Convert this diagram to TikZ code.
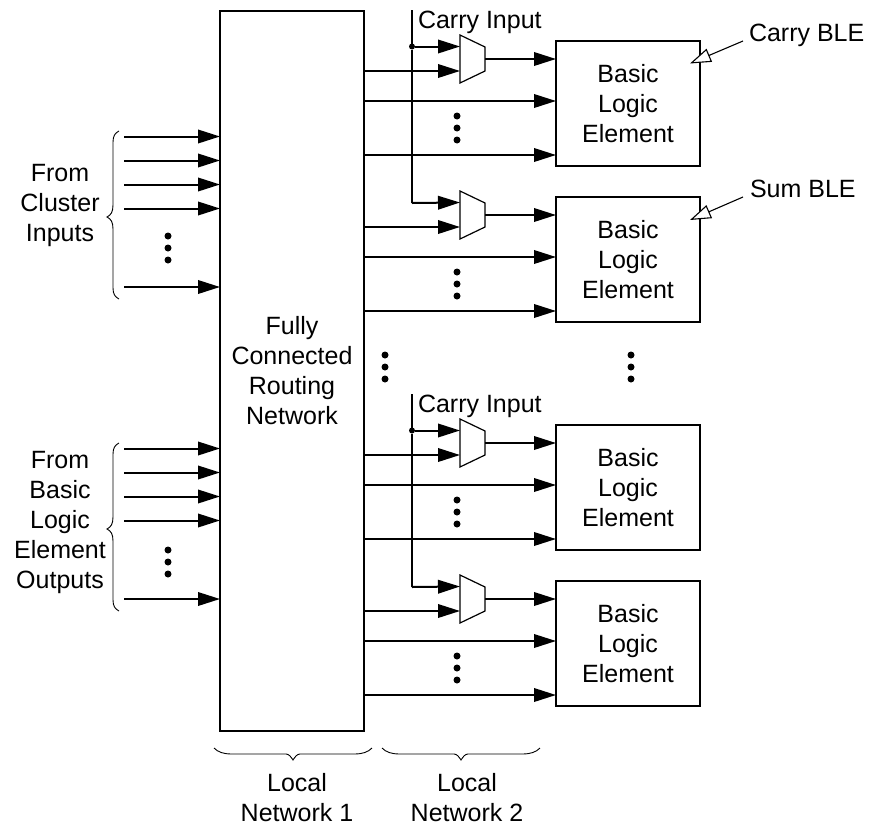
\documentclass[tikz,border=0pt]{standalone}
\usepackage{fontspec}
\setmainfont{Liberation Sans}
\usetikzlibrary{arrows.meta}
\tikzset{
  x=1pt,y=-1pt,
  every node/.style={inner sep=0pt,outer sep=0pt},
  lbl/.style={font=\fontsize{25}{30}\selectfont,align=center},
  blebox/.style={draw,line width=2pt,minimum width=144pt,minimum height=125.5pt},
  wire/.style={line width=2pt},
  arr/.style={wire,-{Triangle[length=22pt,width=13.5pt]}},
  muxshape/.style={line width=1.2pt,line join=miter},
  bracel/.style={line width=0.9pt},
  ell/.style={circle,fill=black,minimum size=7pt},
  junction/.style={circle,fill=black,minimum size=6pt},
  callout/.style={line width=1.1pt,-{Triangle[open,length=21pt,width=14pt,fill=white]}}
}
\begin{document}
\begin{tikzpicture}
\useasboundingbox (0,0) rectangle (872,827);
\node[draw,line width=2pt,minimum width=144pt,minimum height=720pt] (main) at (292,371) {};
\node[lbl] (mainl) at (292,371) {Fully\\Connected\\Routing\\Network};
% BLE rows
\foreach \i/\b in {1/0,2/156,3/384,4/540}{
  \node[blebox] (ble\i) at (628,103.5+\b) {};
  \node[lbl] (blel\i) at (628,103.5+\b) {Basic\\Logic\\Element};
  \coordinate (m\i-tl) at (460,35+\b);
  \coordinate (m\i-tr) at (485,47+\b);
  \coordinate (m\i-br) at (485,71+\b);
  \coordinate (m\i-bl) at (460,83+\b);
  \coordinate (m\i-a) at (460,46.5+\b);
  \coordinate (m\i-b) at (460,71+\b);
  \coordinate (m\i-o) at (485,59+\b);
  \draw[muxshape] (m\i-tl) -- (m\i-tr) -- (m\i-br) -- (m\i-bl) -- cycle;
  \draw[arr] (m\i-o) -- (ble\i.west |- m\i-o);
  \draw[arr] (main.east |- m\i-b) -- (m\i-b);
  \coordinate (r\i-a) at (500,101+\b);
  \coordinate (r\i-b) at (500,155+\b);
  \draw[arr] (main.east |- r\i-a) -- (ble\i.west |- r\i-a);
  \draw[arr] (main.east |- r\i-b) -- (ble\i.west |- r\i-b);
  \node[ell] (d\i a) at (457,116+\b) {};
  \node[ell] (d\i b) at (457,128+\b) {};
  \node[ell] (d\i c) at (457,140+\b) {};
}
% carry lines
\foreach \t/\u/\v/\b in {c1/1/2/0,c2/3/4/384}{
  \coordinate (\t-top) at (412,10+\b);
  \node[junction] (\t-j) at (412,46.5+\b) {};
  \draw[wire] (\t-top) -- (\t-j);
  \draw[arr] (\t-j) -- (m\u-a);
  \draw[wire] (\t-j) -- (412,203+\b) coordinate (\t-corner) -- (m\v-a -| \t-corner);
  \draw[arr] (\t-corner) -- (m\v-a);
  \node[lbl,anchor=base west] (\t-l) at (418,28+\b) {Carry Input};
}
% left inputs
\foreach \n/\y in {a/136.5,b/160.5,c/184.5,d/208.5,e/287}{
  \coordinate (up\n) at (124,\y);
  \draw[arr] (up\n) -- (main.west |- up\n);
  \coordinate (lo\n) at (124,\y+312);
  \draw[arr] (lo\n) -- (main.west |- lo\n);
}
\foreach \n/\y in {a/236,b/248,c/260}{
  \node[ell] (lu\n) at (168,\y) {};
  \node[ell] (ll\n) at (168,\y+314) {};
}
% left braces
\foreach \b in {0,312}{
  \draw[bracel] (119,131+\b) .. controls (115,133+\b) and (113,136+\b) .. (113,142+\b)
    -- (113,205+\b) .. controls (113,212+\b) and (111,215+\b) .. (107,217+\b)
    .. controls (111,219+\b) and (113,222+\b) .. (113,229+\b)
    -- (113,288+\b) .. controls (113,294+\b) and (115,297+\b) .. (119,299+\b);
}
\node[lbl] (fromcl) at (60,205) {From\\Cluster\\Inputs};
\node[lbl] (fromble) at (60,522) {From\\Basic\\Logic\\Element\\Outputs};
% middle ellipses
\foreach \n/\x in {m/385,r/631}{
  \node[ell] (\n a) at (\x,355) {};
  \node[ell] (\n b) at (\x,367) {};
  \node[ell] (\n c) at (\x,379) {};
}
% bottom braces
\foreach \l/\t/\r in {214/293/372,382/461/540}{
  \draw[bracel] (\l,748) .. controls (\l+4,752) and (\l+9,754) .. (\l+18,754)
    -- (\t-7,754) .. controls (\t-4,754) and (\t-2,757) .. (\t,760)
    .. controls (\t+2,757) and (\t+4,754) .. (\t+7,754)
    -- (\r-18,754) .. controls (\r-9,754) and (\r-4,752) .. (\r,748);
}
\node[lbl,anchor=base] (ln1a) at (297,791) {Local};
\node[lbl,anchor=base] (ln1b) at (297,821) {Network 1};
\node[lbl,anchor=base] (ln2a) at (467,791) {Local};
\node[lbl,anchor=base] (ln2b) at (467,821) {Network 2};
% callouts
\node[lbl,anchor=base west] (cble) at (749,41) {Carry BLE};
\node[lbl,anchor=base west] (sble) at (750,197) {Sum BLE};
\coordinate (cs) at (743,41);
\coordinate (ct) at (690,63.5);
\coordinate (ss) at (743,197);
\coordinate (st) at (690,220);
\draw[callout] (cs) -- (ct);
\draw[callout] (ss) -- (st);
\end{tikzpicture}
\end{document}
